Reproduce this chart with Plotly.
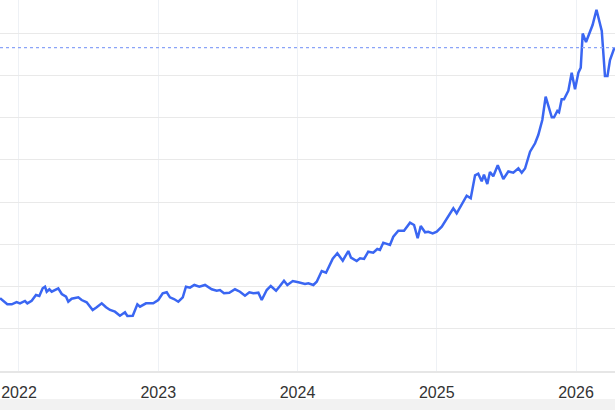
import plotly.graph_objects as go

# Decimal-year positions of the series points
years = [
    2021.864, 2021.887, 2021.916, 2021.948, 2021.983, 2022.007, 2022.043, 2022.060, 2022.091, 2022.122,
    2022.146, 2022.170, 2022.187, 2022.199, 2022.218, 2022.235, 2022.259, 2022.282, 2022.307, 2022.338,
    2022.354, 2022.378, 2022.426, 2022.450, 2022.486, 2022.529, 2022.558, 2022.594, 2022.625, 2022.654,
    2022.689, 2022.725, 2022.761, 2022.778, 2022.817, 2022.850, 2022.869, 2022.912, 2022.964, 2023.000,
    2023.032, 2023.061, 2023.084, 2023.113, 2023.144, 2023.176, 2023.199, 2023.228, 2023.259, 2023.295,
    2023.336, 2023.384, 2023.420, 2023.443, 2023.472, 2023.510, 2023.551, 2023.587, 2023.623, 2023.654,
    2023.683, 2023.719, 2023.743, 2023.779, 2023.808, 2023.846, 2023.874, 2023.903, 2023.927, 2023.966,
    2024.006, 2024.054, 2024.078, 2024.114, 2024.138, 2024.174, 2024.205, 2024.253, 2024.286, 2024.325,
    2024.365, 2024.384, 2024.425, 2024.449, 2024.478, 2024.508, 2024.544, 2024.573, 2024.592, 2024.616,
    2024.664, 2024.688, 2024.724, 2024.765, 2024.808, 2024.837, 2024.863, 2024.885, 2024.916, 2024.939,
    2024.971, 2025.000, 2025.036, 2025.059, 2025.090, 2025.119, 2025.143, 2025.179, 2025.215, 2025.244,
    2025.275, 2025.298, 2025.323, 2025.339, 2025.363, 2025.382, 2025.406, 2025.438, 2025.478, 2025.514,
    2025.550, 2025.586, 2025.610, 2025.634, 2025.670, 2025.706, 2025.729, 2025.758, 2025.782, 2025.826,
    2025.842, 2025.866, 2025.878, 2025.897, 2025.914, 2025.945, 2025.969, 2025.993, 2026.017, 2026.034,
    2026.048, 2026.072, 2026.119, 2026.147, 2026.185, 2026.208, 2026.226, 2026.244, 2026.276,
]

values = [
    17.21, 16.64, 15.79, 15.79, 16.33, 16.02, 16.57, 16.02, 16.64, 17.99,
    17.75, 19.57, 19.95, 18.77, 19.34, 18.77, 19.17, 19.57, 18.22, 17.59,
    16.40, 17.11, 17.44, 16.80, 16.26, 14.44, 15.08, 16.02, 15.08, 14.44,
    14.04, 13.09, 13.89, 13.02, 13.09, 15.79, 15.22, 16.02, 16.02, 16.80,
    18.39, 18.63, 17.44, 17.04, 16.40, 17.44, 19.95, 19.72, 20.36, 19.95,
    20.36, 19.34, 19.01, 19.17, 18.39, 18.53, 19.34, 18.77, 17.82, 18.63,
    18.39, 18.53, 16.80, 19.17, 20.12, 19.01, 20.12, 21.37, 20.36, 21.30,
    20.99, 20.59, 20.76, 20.36, 21.14, 23.67, 23.27, 26.58, 27.86, 26.11,
    28.40, 26.82, 26.04, 26.67, 26.51, 28.24, 28.00, 28.88, 28.64, 30.37,
    29.82, 31.79, 33.21, 33.21, 35.10, 34.56, 31.41, 34.32, 32.83, 32.97,
    32.59, 32.97, 34.15, 35.34, 37.09, 38.51, 37.33, 39.53, 41.49, 40.88,
    46.32, 46.70, 44.90, 46.46, 44.26, 47.10, 46.08, 48.69, 45.44, 47.22,
    46.93, 47.98, 46.91, 47.93, 51.91, 53.89, 55.86, 59.41, 64.92, 60.05,
    60.05, 61.54, 61.23, 64.31, 64.31, 66.34, 70.60, 66.67, 70.60, 71.79,
    79.88, 77.87, 81.89, 85.51, 80.47, 69.82, 69.82, 73.61, 76.52,
]

tick_years = [2022, 2023, 2024, 2025, 2026]
tick_labels = ["2022", "2023", "2024", "2025", "2026"]
reference_level = 76.52

fig = go.Figure()
fig.add_trace(go.Scatter(
    x=years, y=values, mode="lines",
    line=dict(color="#3a66f2", width=2.5),
    hoverinfo="skip", showlegend=False,
))

fig.add_hline(y=reference_level, line=dict(color="#8aa4f8", width=1.3, dash="dot"))

fig.add_shape(type="rect", xref="paper", yref="paper",
              x0=-0.1, x1=1.1, y0=-0.2, y1=-0.0755,
              fillcolor="#f2f2f2", line=dict(width=0), layer="below")

fig.update_layout(
    width=615, height=410,
    margin=dict(l=0, r=0, t=0, b=39),
    paper_bgcolor="white", plot_bgcolor="white",
    showlegend=False,
    font=dict(family="Liberation Sans, Arial, sans-serif", size=16, color="#333333"),
)
fig.update_xaxes(
    range=[2021.8636, 2026.280],
    tickvals=tick_years, ticktext=tick_labels,
    showgrid=True, gridcolor="#eef1f5", gridwidth=1,
    zeroline=False, showline=True, linecolor="#e6e6e6", linewidth=1.5,
    ticks="", ticklabelstandoff=6,
)
fig.update_yaxes(
    range=[0, 87.81], dtick=10, tick0=0,
    showgrid=True, gridcolor="#e9e9e9", gridwidth=1,
    zeroline=False, showline=False, showticklabels=False, ticks="",
)

fig.write_html(
    "out.html",
    config={"displayModeBar": False},
    post_script="document.body.style.margin='0';document.body.style.padding='0';",
)
